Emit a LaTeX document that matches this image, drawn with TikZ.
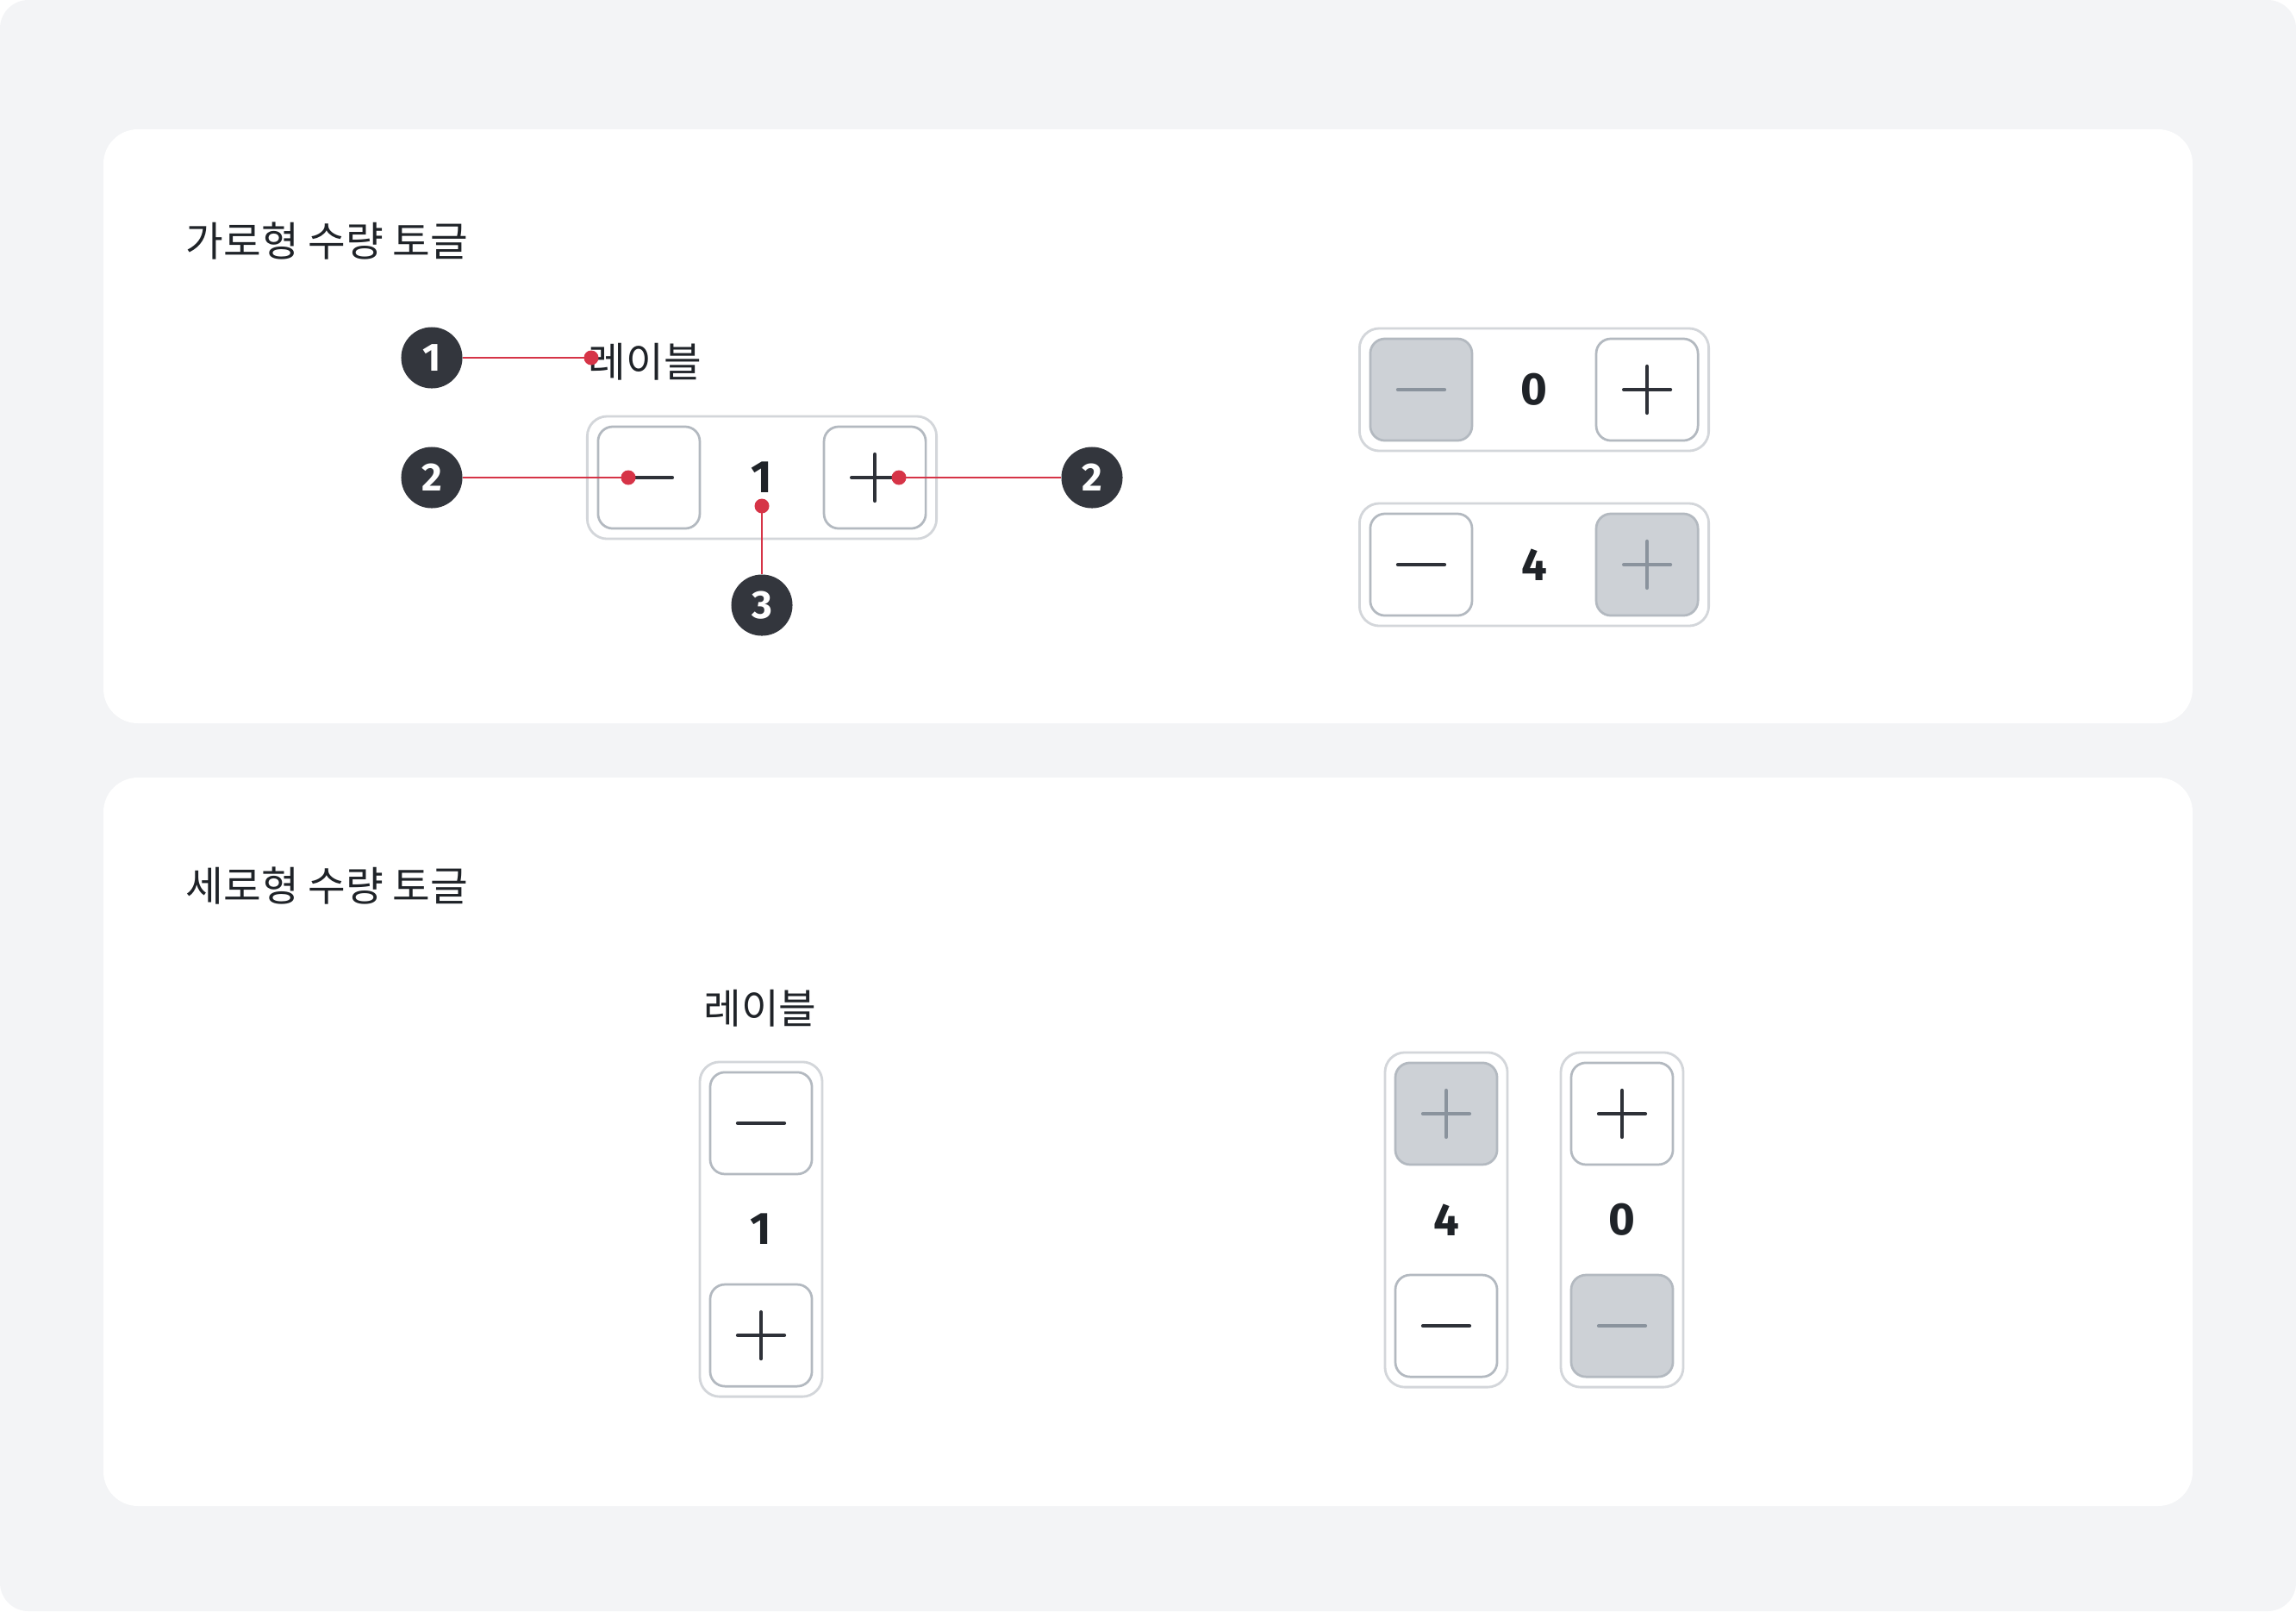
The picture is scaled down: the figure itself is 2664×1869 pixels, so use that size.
\documentclass[tikz,border=0pt]{standalone}
\usepackage{fontspec}
\newfontfamily\krfont{Noto Sans CJK KR}
\newfontfamily\numfont{Fira Sans}
\definecolor{pagebg}{HTML}{F3F4F6}
\definecolor{obord}{HTML}{D3D6DA}
\definecolor{bbord}{HTML}{B3B9C0}
\definecolor{dfill}{HTML}{CDD1D6}
\definecolor{icondark}{HTML}{2E3138}
\definecolor{iconlight}{HTML}{8A939D}
\definecolor{txt}{HTML}{1F2328}
\definecolor{badgec}{HTML}{33363D}
\definecolor{redc}{HTML}{D63447}
\tikzset{
  outerh/.style={draw=obord, line width=0.8pt, fill=white, rounded corners=0.23cm, minimum width=4.05cm, minimum height=1.42cm, inner sep=0pt},
  outerv/.style={draw=obord, line width=0.8pt, fill=white, rounded corners=0.23cm, minimum width=1.42cm, minimum height=3.88cm, inner sep=0pt},
  btnon/.style={draw=bbord, line width=0.78pt, fill=white, rounded corners=0.17cm, minimum size=1.18cm, inner sep=0pt},
  btnoff/.style={btnon, fill=dfill},
  iconon/.style={draw=icondark, line width=1.2pt, line cap=round},
  iconoff/.style={draw=iconlight, line width=1.2pt, line cap=round},
  val/.style={inner sep=0pt, text=txt, font=\numfont\bfseries\fontsize{15pt}{18pt}\selectfont},
  title/.style={anchor=west, inner sep=0pt, text=txt, font=\krfont\fontsize{13.5pt}{16pt}\selectfont},
  lab/.style={inner sep=0pt, text=txt, font=\krfont\fontsize{13.5pt}{16pt}\selectfont},
  badge/.style={circle, fill=badgec, minimum size=0.71cm, inner sep=0pt, text=white, font=\numfont\bfseries\fontsize{13pt}{15pt}\selectfont},
  redline/.style={draw=redc, line width=0.8pt},
  rdot/.style={circle, fill=redc, minimum size=0.17cm, inner sep=0pt},
}
\newcommand\minusicon[2]{\draw[icon#2] ([xshift=-0.27cm]#1.center) -- ([xshift=0.27cm]#1.center);}
\newcommand\plusicon[2]{\minusicon{#1}{#2}\draw[icon#2] ([yshift=-0.27cm]#1.center) -- ([yshift=0.27cm]#1.center);}
\newcommand\htoggle[6]{%
  \node[outerh] (#1) at (#2,#3) {};
  \node[btn#5] (#1m) at ([xshift=-1.31cm]#1.center) {};
  \node[btn#6] (#1p) at ([xshift=1.31cm]#1.center) {};
  \node[val] (#1v) at (#1.center) {#4};
  \minusicon{#1m}{#5}\plusicon{#1p}{#6}}
\newcommand\vtoggle[8]{%
  \node[outerv] (#1) at (#2,#3) {};
  \node[btn#6] (#1t) at ([yshift=1.23cm]#1.center) {};
  \node[btn#8] (#1b) at ([yshift=-1.23cm]#1.center) {};
  \node[val] (#1v) at (#1.center) {#4};
  \csname #5icon\endcsname{#1t}{#6}\csname #7icon\endcsname{#1b}{#8}}
\begin{document}
\begin{tikzpicture}[x=0.01cm,y=-0.01cm]
\useasboundingbox (0,0) rectangle (2664,1869);
\fill[white] (0,0) rectangle (2664,1869);
\fill[pagebg, rounded corners=0.33cm] (0,0) rectangle (2664,1869);
\fill[white, rounded corners=0.4cm] (120,150) rectangle (2544,839);
\fill[white, rounded corners=0.4cm] (120,902) rectangle (2544,1747);

\node[title] (t1) at (215,280) {가로형 수량 토글};
\node[title] (t2) at (215,1028) {세로형 수량 토글};

% annotated horizontal toggle
\node[lab, anchor=west] (lab1) at (682,420) {레이블};
\htoggle{ann}{884}{554}{1}{on}{on}
\htoggle{exa}{1780}{452}{0}{off}{on}
\htoggle{exb}{1780}{655}{4}{on}{off}

% badges and callouts
\node[badge] (b1) at (501,415) {1};
\node[badge] (b2l) at (501,554) {2};
\node[badge] (b2r) at (1267,554) {2};
\node[badge] (b3) at (884,702) {3};
\coordinate (d1) at (686,415);
\coordinate (d2l) at (729,554);
\coordinate (d2r) at (1043,554);
\coordinate (d3) at (884,587);
\draw[redline] (b1) -- (d1);
\draw[redline] (b2l) -- (d2l);
\draw[redline] (b2r) -- (d2r);
\draw[redline] (b3) -- (d3);
\node[rdot] (d1n) at (d1) {};
\node[rdot] (d2ln) at (d2l) {};
\node[rdot] (d2rn) at (d2r) {};
\node[rdot] (d3n) at (d3) {};

% vertical toggles
\node[lab] (lab2) at (882,1170) {레이블};
\vtoggle{vta}{883}{1426}{1}{minus}{on}{plus}{on}
\vtoggle{vtb}{1678}{1415}{4}{plus}{off}{minus}{on}
\vtoggle{vtc}{1882}{1415}{0}{plus}{on}{minus}{off}
\end{tikzpicture}
\end{document}
